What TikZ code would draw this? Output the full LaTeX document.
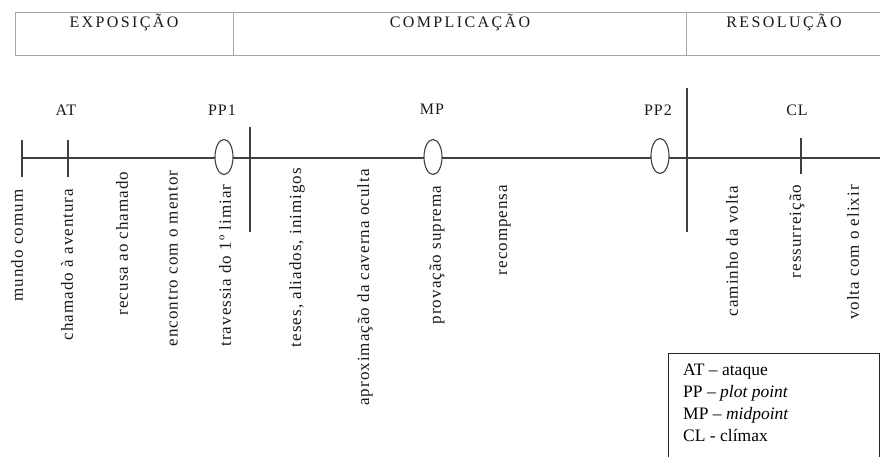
\documentclass[tikz,border=0pt]{standalone}
\usepackage{fontspec}
\setmainfont{Liberation Serif}
\newfontfamily\labfont[LetterSpace=6]{Liberation Serif}
\newfontfamily\headfont[LetterSpace=15]{Liberation Serif}
\usetikzlibrary{shapes.geometric}
\begin{document}
\begin{tikzpicture}[x=1pt,y=-1pt,
  hdrline/.style={draw=black!35,line width=0.9pt},
  hdrtext/.style={font=\headfont\fontsize{16}{16}\selectfont,text=black!90,inner sep=0pt},
  axis/.style={draw=black!75,line width=1.2pt},
  tick/.style={draw=black!75,line width=1.2pt},
  ppmark/.style={draw=black!75,line width=1.1pt,fill=white,ellipse,minimum width=18pt,minimum height=35pt,inner sep=0pt},
  toplab/.style={font=\labfont\fontsize{16}{16}\selectfont,text=black!90,inner sep=0pt},
  vlab/.style={font=\labfont\fontsize{17}{17}\selectfont,text=black!90,rotate=90,inner sep=0pt},
  legend/.style={font=\fontsize{17.5}{22}\selectfont,align=left,anchor=north west,inner sep=0pt}]
\useasboundingbox (0,0) rectangle (880,457);
% header
\coordinate (h1) at (15,12);
\coordinate (h2) at (880,12);
\coordinate (h3) at (880,55);
\coordinate (h4) at (15,55);
\coordinate (d1t) at (233,12);
\coordinate (d1b) at (233,55);
\coordinate (d2t) at (686,12);
\coordinate (d2b) at (686,55);
\draw[hdrline] (h2) -- (h1) -- (h4) -- (h3);
\draw[hdrline] (d1t) -- (d1b);
\draw[hdrline] (d2t) -- (d2b);
\node[hdrtext] (expo) at (124,23) {EXPOSIÇÃO};
\node[hdrtext] (comp) at (460,23) {COMPLICAÇÃO};
\node[hdrtext] (reso) at (784,23) {RESOLUÇÃO};
% axis
\coordinate (start) at (22,158);
\coordinate (end) at (880,158);
\draw[axis] (start) -- (end);
% ticks
\coordinate (t0a) at (22,140); \coordinate (t0b) at (22,177);
\draw[tick] (t0a) -- (t0b);
\coordinate (ata) at (68,140); \coordinate (atb) at (68,177);
\draw[tick] (ata) -- (atb);
\coordinate (cla) at (801,138); \coordinate (clb) at (801,174);
\draw[tick] (cla) -- (clb);
% act dividers
\coordinate (v1a) at (250,127); \coordinate (v1b) at (250,232);
\draw[tick] (v1a) -- (v1b);
\coordinate (v2a) at (687,88); \coordinate (v2b) at (687,232);
\draw[tick] (v2a) -- (v2b);
% plot points
\node[ppmark] (pp1) at (224,157) {};
\node[ppmark] (mp) at (433,157) {};
\node[ppmark] (pp2) at (660,156) {};
% top labels
\node[toplab] (atl) at (66,110) {AT};
\node[toplab] (pp1l) at (222,110) {PP1};
\node[toplab] (mpl) at (432,109) {MP};
\node[toplab] (pp2l) at (658,110) {PP2};
\node[toplab] (cll) at (797,110) {CL};
% vertical labels
\node[vlab] (l1) at (17,245.5) {mundo comum};
\node[vlab] (l2) at (67,264.5) {chamado à aventura};
\node[vlab] (l3) at (122,243.5) {recusa ao chamado};
\node[vlab] (l4) at (173,258.5) {encontro com o mentor};
\node[vlab] (l5) at (225,265.5) {travessia do 1º limiar};
\node[vlab] (l6) at (297,257.5) {teses, aliados, inimigos};
\node[vlab] (l7) at (365,287.5) {aproximação da caverna oculta};
\node[vlab] (l8) at (437,255) {provação suprema};
\node[vlab] (l9) at (505,230) {recompensa};
\node[vlab] (l10) at (732,251) {caminho da volta};
\node[vlab] (l11) at (797,231.5) {ressurreição};
\node[vlab] (l12) at (853,252.5) {volta com o elixir};
% legend
\coordinate (la) at (668,460);
\coordinate (lb) at (668,353);
\coordinate (lc) at (879,353);
\coordinate (ld) at (879,460);
\draw[black!85,line width=1pt] (la) -- (lb) -- (lc) -- (ld);
\node[legend] (leg) at (683,364) {AT -- ataque\\PP -- \textit{plot point}\\MP -- \textit{midpoint}\\CL - clímax};
\end{tikzpicture}
\end{document}
